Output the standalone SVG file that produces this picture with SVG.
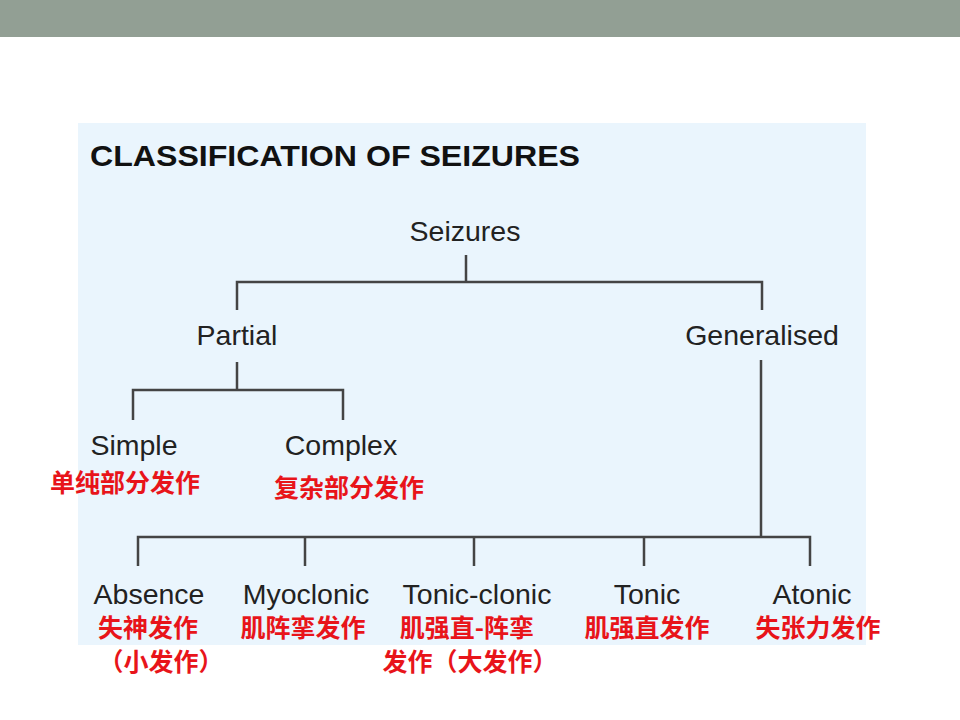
<svg xmlns="http://www.w3.org/2000/svg" width="960" height="720" viewBox="0 0 960 720">
<style>
.en{font-family:"Liberation Sans",Arial,sans-serif;font-size:28.5px;fill:#222;text-anchor:middle}
.zh{font-family:"Noto Sans CJK SC","Noto Sans",sans-serif;font-size:25px;font-weight:bold;fill:#e8141a;text-anchor:middle}
.ln{stroke:#444;stroke-width:2.5;fill:none}
</style>
<rect x="0" y="0" width="960" height="720" fill="#ffffff"/>
<rect x="0" y="0" width="960" height="37" fill="#929f94"/>
<rect x="78" y="123" width="788" height="522" fill="#eaf5fd"/>
<text x="90" y="166" font-family="'Liberation Sans',Arial,sans-serif" font-size="30" font-weight="bold" fill="#111" textLength="490" lengthAdjust="spacingAndGlyphs">CLASSIFICATION OF SEIZURES</text>
<g id="connectors" class="ln">
<path d="M466 255V282M237 310V282H762V310"/>
<path d="M237 362V390M133 420V390H343V420"/>
<path d="M761 360V537M138 566V537H810V566M305 537V566M474 537V566M644 537V566"/>
</g>
<g id="seizures"><text class="en" x="465" y="241">Seizures</text></g>
<g id="partial"><text class="en" x="237" y="345">Partial</text></g>
<g id="generalised"><text class="en" x="762" y="345">Generalised</text></g>
<g id="simple"><text class="en" x="134" y="455">Simple</text><text class="zh" x="125" y="492">单纯部分发作</text></g>
<g id="complex"><text class="en" x="341" y="455">Complex</text><text class="zh" x="349" y="497">复杂部分发作</text></g>
<g id="absence"><text class="en" x="149" y="604">Absence</text><text class="zh" x="148" y="637">失神发作</text><text class="zh" x="161" y="671">（小发作）</text></g>
<g id="myoclonic"><text class="en" x="306" y="604">Myoclonic</text><text class="zh" x="303" y="637">肌阵挛发作</text></g>
<g id="tonic-clonic"><text class="en" x="477" y="604">Tonic-clonic</text><text class="zh" x="467" y="637">肌强直-阵挛</text><text class="zh" x="470" y="671">发作（大发作）</text></g>
<g id="tonic"><text class="en" x="647" y="604">Tonic</text><text class="zh" x="647" y="637">肌强直发作</text></g>
<g id="atonic"><text class="en" x="812" y="604">Atonic</text><text class="zh" x="818" y="637">失张力发作</text></g>
</svg>
